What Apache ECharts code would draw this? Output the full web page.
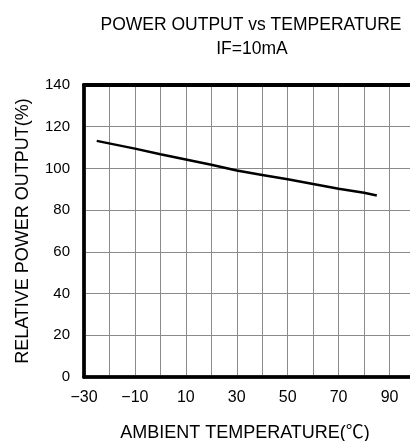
<!DOCTYPE html>
<html>
<head>
<meta charset="utf-8">
<script src="https://cdn.jsdelivr.net/npm/echarts@6/dist/echarts.min.js"></script>
<style>html,body{margin:0;padding:0;background:#fff;overflow:hidden;}#c{width:420px;height:441px;}</style>
</head>
<body>
<div id="c"></div>
<script>
var titleText = 'POWER OUTPUT vs TEMPERATURE';
var subText = 'IF=10mA';
var xName = 'AMBIENT TEMPERATURE(℃)';
var yName = 'RELATIVE POWER OUTPUT(%)';
var temperatures = [-25, -10, 0, 10, 20, 30, 40, 50, 60, 70, 80, 85];
var relativeOutput = [113.2, 109.5, 106.8, 104.3, 101.8, 99.0, 96.9, 94.8, 92.5, 90.3, 88.3, 87.0];
var xLabelValues = [-30, -10, 10, 30, 50, 70, 90];

var FONT = '"Liberation Sans", Arial, "Noto Sans CJK JP", sans-serif';
var chart = echarts.init(document.getElementById('c'));
var data = temperatures.map(function (t, i) { return [t, relativeOutput[i]]; });

chart.setOption({
  animation: false,
  backgroundColor: '#fff',
  title: [
    { text: titleText, left: 246, top: 11, textAlign: 'center',
      textStyle: { fontFamily: FONT, fontSize: 17.5, fontWeight: 'normal', color: '#000' } },
    { text: subText, left: 247, top: 35, textAlign: 'center',
      textStyle: { fontFamily: FONT, fontSize: 17.5, fontWeight: 'normal', color: '#000' } },
    { text: xName, left: 240, top: 419, textAlign: 'center',
      textStyle: { fontFamily: FONT, fontSize: 18, fontWeight: 'normal', color: '#000' } }
  ],
  grid: { left: 84, right: 5, top: 85, bottom: 64, show: true, borderColor: '#000', borderWidth: 3 },
  xAxis: [{
    type: 'value', min: -30, max: 100, interval: 10,
    axisLine: { show: true, onZero: false, lineStyle: { color: '#000', width: 3.5 } },
    axisTick: { show: false },
    splitLine: { show: true, lineStyle: { color: '#8a8a8a', width: 1 } },
    axisLabel: {
      fontFamily: FONT, fontSize: 16, color: '#000', margin: 13,
      formatter: function (v) {
        if (xLabelValues.indexOf(v) < 0) return '';
        return String(v).replace('-', '−');
      }
    }
  }, {
    type: 'value', position: 'top', min: -30, max: 100, interval: 10,
    axisLine: { show: true, onZero: false, lineStyle: { color: '#000', width: 4 } },
    axisTick: { show: false }, axisLabel: { show: false }, splitLine: { show: false }
  }],
  yAxis: {
    type: 'value', min: 0, max: 140, interval: 20,
    name: yName, nameLocation: 'middle', nameGap: 52,
    nameTextStyle: { fontFamily: FONT, fontSize: 18, color: '#000' },
    axisLine: { show: true, onZero: false, lineStyle: { color: '#000', width: 3.5 } },
    axisTick: { show: false },
    splitLine: { show: true, lineStyle: { color: '#8a8a8a', width: 1 } },
    axisLabel: { fontFamily: FONT, fontSize: 15, color: '#000', margin: 14 }
  },
  series: [{
    type: 'line', data: data, symbol: 'none', smooth: false,
    lineStyle: { color: '#000', width: 2.5 }
  }]
});
</script>
</body>
</html>
